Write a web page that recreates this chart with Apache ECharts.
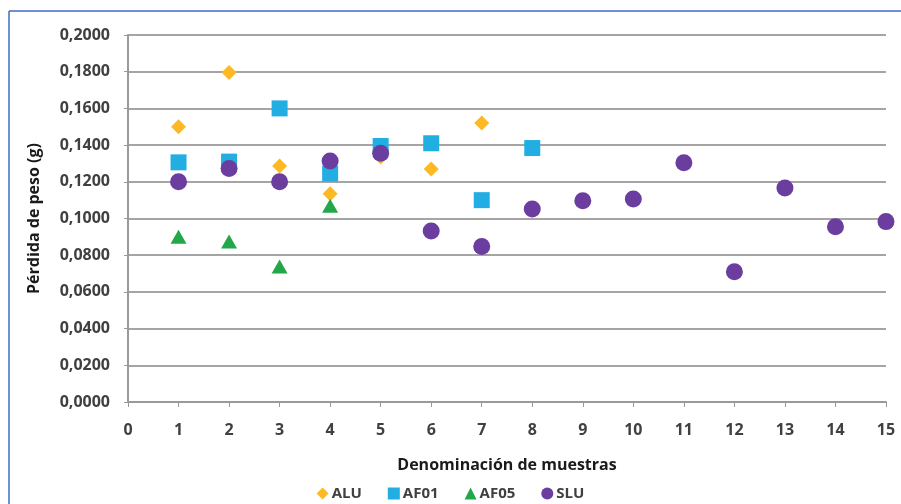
<!DOCTYPE html>
<html>
<head>
<meta charset="utf-8">
<script src="https://cdn.jsdelivr.net/npm/echarts@6/dist/echarts.min.js"></script>
<style>
html,body{margin:0;padding:0;background:#fff;}
#c{width:901px;height:504px;}
</style>
</head>
<body>
<div id="c"></div>
<script>
// Data
var samplesALU = [1, 2, 3, 4, 5, 6, 7];
var valuesALU  = [0.1500, 0.1795, 0.1286, 0.1135, 0.1335, 0.1270, 0.1520];
var samplesAF01 = [1, 2, 3, 4, 5, 6, 7, 8];
var valuesAF01  = [0.1306, 0.1310, 0.1600, 0.1245, 0.1395, 0.1410, 0.1100, 0.1384];
var samplesAF05 = [1, 2, 3, 4];
var valuesAF05  = [0.0900, 0.0875, 0.0738, 0.1070];
var samplesSLU = [1, 2, 3, 4, 5, 6, 7, 8, 9, 10, 11, 12, 13, 14, 15];
var valuesSLU  = [0.1200, 0.1273, 0.1200, 0.1313, 0.1355, 0.0932, 0.0848, 0.1052, 0.1097, 0.1106, 0.1304, 0.0710, 0.1166, 0.0955, 0.0983];
var seriesNames = ['ALU', 'AF01', 'AF05', 'SLU'];
var xTitle = 'Denominación de muestras';
var yTitle = 'Pérdida de peso (g)';

function pairs(xs, ys) { return xs.map(function (x, i) { return [x, ys[i]]; }); }

var chart = echarts.init(document.getElementById('c'), null, { renderer: 'canvas' });
var font = '"Open Sans", "Liberation Sans", sans-serif';
chart.setOption({
  animation: false,
  backgroundColor: '#fff',
  textStyle: { fontFamily: font },
  graphic: [
    { type: 'line', shape: { x1: 9, y1: 11, x2: 901, y2: 11 }, style: { stroke: '#3f6cc4', lineWidth: 1.5 } },
    { type: 'line', shape: { x1: 9, y1: 11, x2: 9, y2: 504 }, style: { stroke: '#3f6cc4', lineWidth: 1.5 } }
  ],
  grid: { left: 128, right: 15, top: 35, bottom: 102 },
  legend: {
    top: 481,
    left: 'center',
    itemWidth: 12,
    itemHeight: 12,
    itemGap: 26,
    textStyle: { fontFamily: font, fontSize: 15, fontWeight: 'bold', color: '#404040', padding: [0, 0, 0, -2] },
    data: [
      { name: 'ALU', icon: 'diamond' },
      { name: 'AF01', icon: 'rect' },
      { name: 'AF05', icon: 'triangle' },
      { name: 'SLU', icon: 'circle' }
    ]
  },
  xAxis: {
    type: 'value',
    min: 0, max: 15, interval: 1,
    name: xTitle,
    nameLocation: 'middle',
    nameGap: 55,
    nameTextStyle: { fontFamily: font, fontSize: 16, fontWeight: 'bold', color: '#1a1a1a' },
    axisLine: { show: true, lineStyle: { color: '#9a9a9a', width: 2 } },
    axisTick: { show: true, length: 5, lineStyle: { color: '#9a9a9a', width: 1 } },
    axisLabel: { fontFamily: font, fontSize: 16, fontWeight: 'bold', color: '#404040', margin: 20 },
    splitLine: { show: false }
  },
  yAxis: {
    type: 'value',
    min: 0, max: 0.2, interval: 0.02,
    name: yTitle,
    nameLocation: 'middle',
    nameGap: 86,
    nameRotate: 90,
    nameTextStyle: { fontFamily: font, fontSize: 16, fontWeight: 'bold', color: '#1a1a1a' },
    axisLine: { show: true, lineStyle: { color: '#9a9a9a', width: 2 } },
    axisTick: { show: true, length: 4, lineStyle: { color: '#9a9a9a' } },
    axisLabel: {
      fontFamily: font, fontSize: 16, fontWeight: 'bold', color: '#404040', margin: 18,
      formatter: function (v) { return v.toFixed(4).replace('.', ','); }
    },
    splitLine: { show: true, lineStyle: { color: '#a5a5a5', width: 2 } }
  },
  series: [
    { name: 'ALU', type: 'scatter', symbol: 'diamond', symbolSize: [15, 15], itemStyle: { color: '#fdb924', opacity: 1 }, data: pairs(samplesALU, valuesALU) },
    { name: 'AF01', type: 'scatter', symbol: 'rect', symbolSize: 16, itemStyle: { color: '#23aee3', opacity: 1 }, data: pairs(samplesAF01, valuesAF01) },
    { name: 'AF05', type: 'scatter', symbol: 'triangle', symbolSize: [16, 14], itemStyle: { color: '#22a84a', opacity: 1 }, data: pairs(samplesAF05, valuesAF05) },
    { name: 'SLU', type: 'scatter', symbol: 'circle', symbolSize: 17, itemStyle: { color: '#6a3d9e', opacity: 1 }, data: pairs(samplesSLU, valuesSLU) }
  ]
});
</script>
</body>
</html>
